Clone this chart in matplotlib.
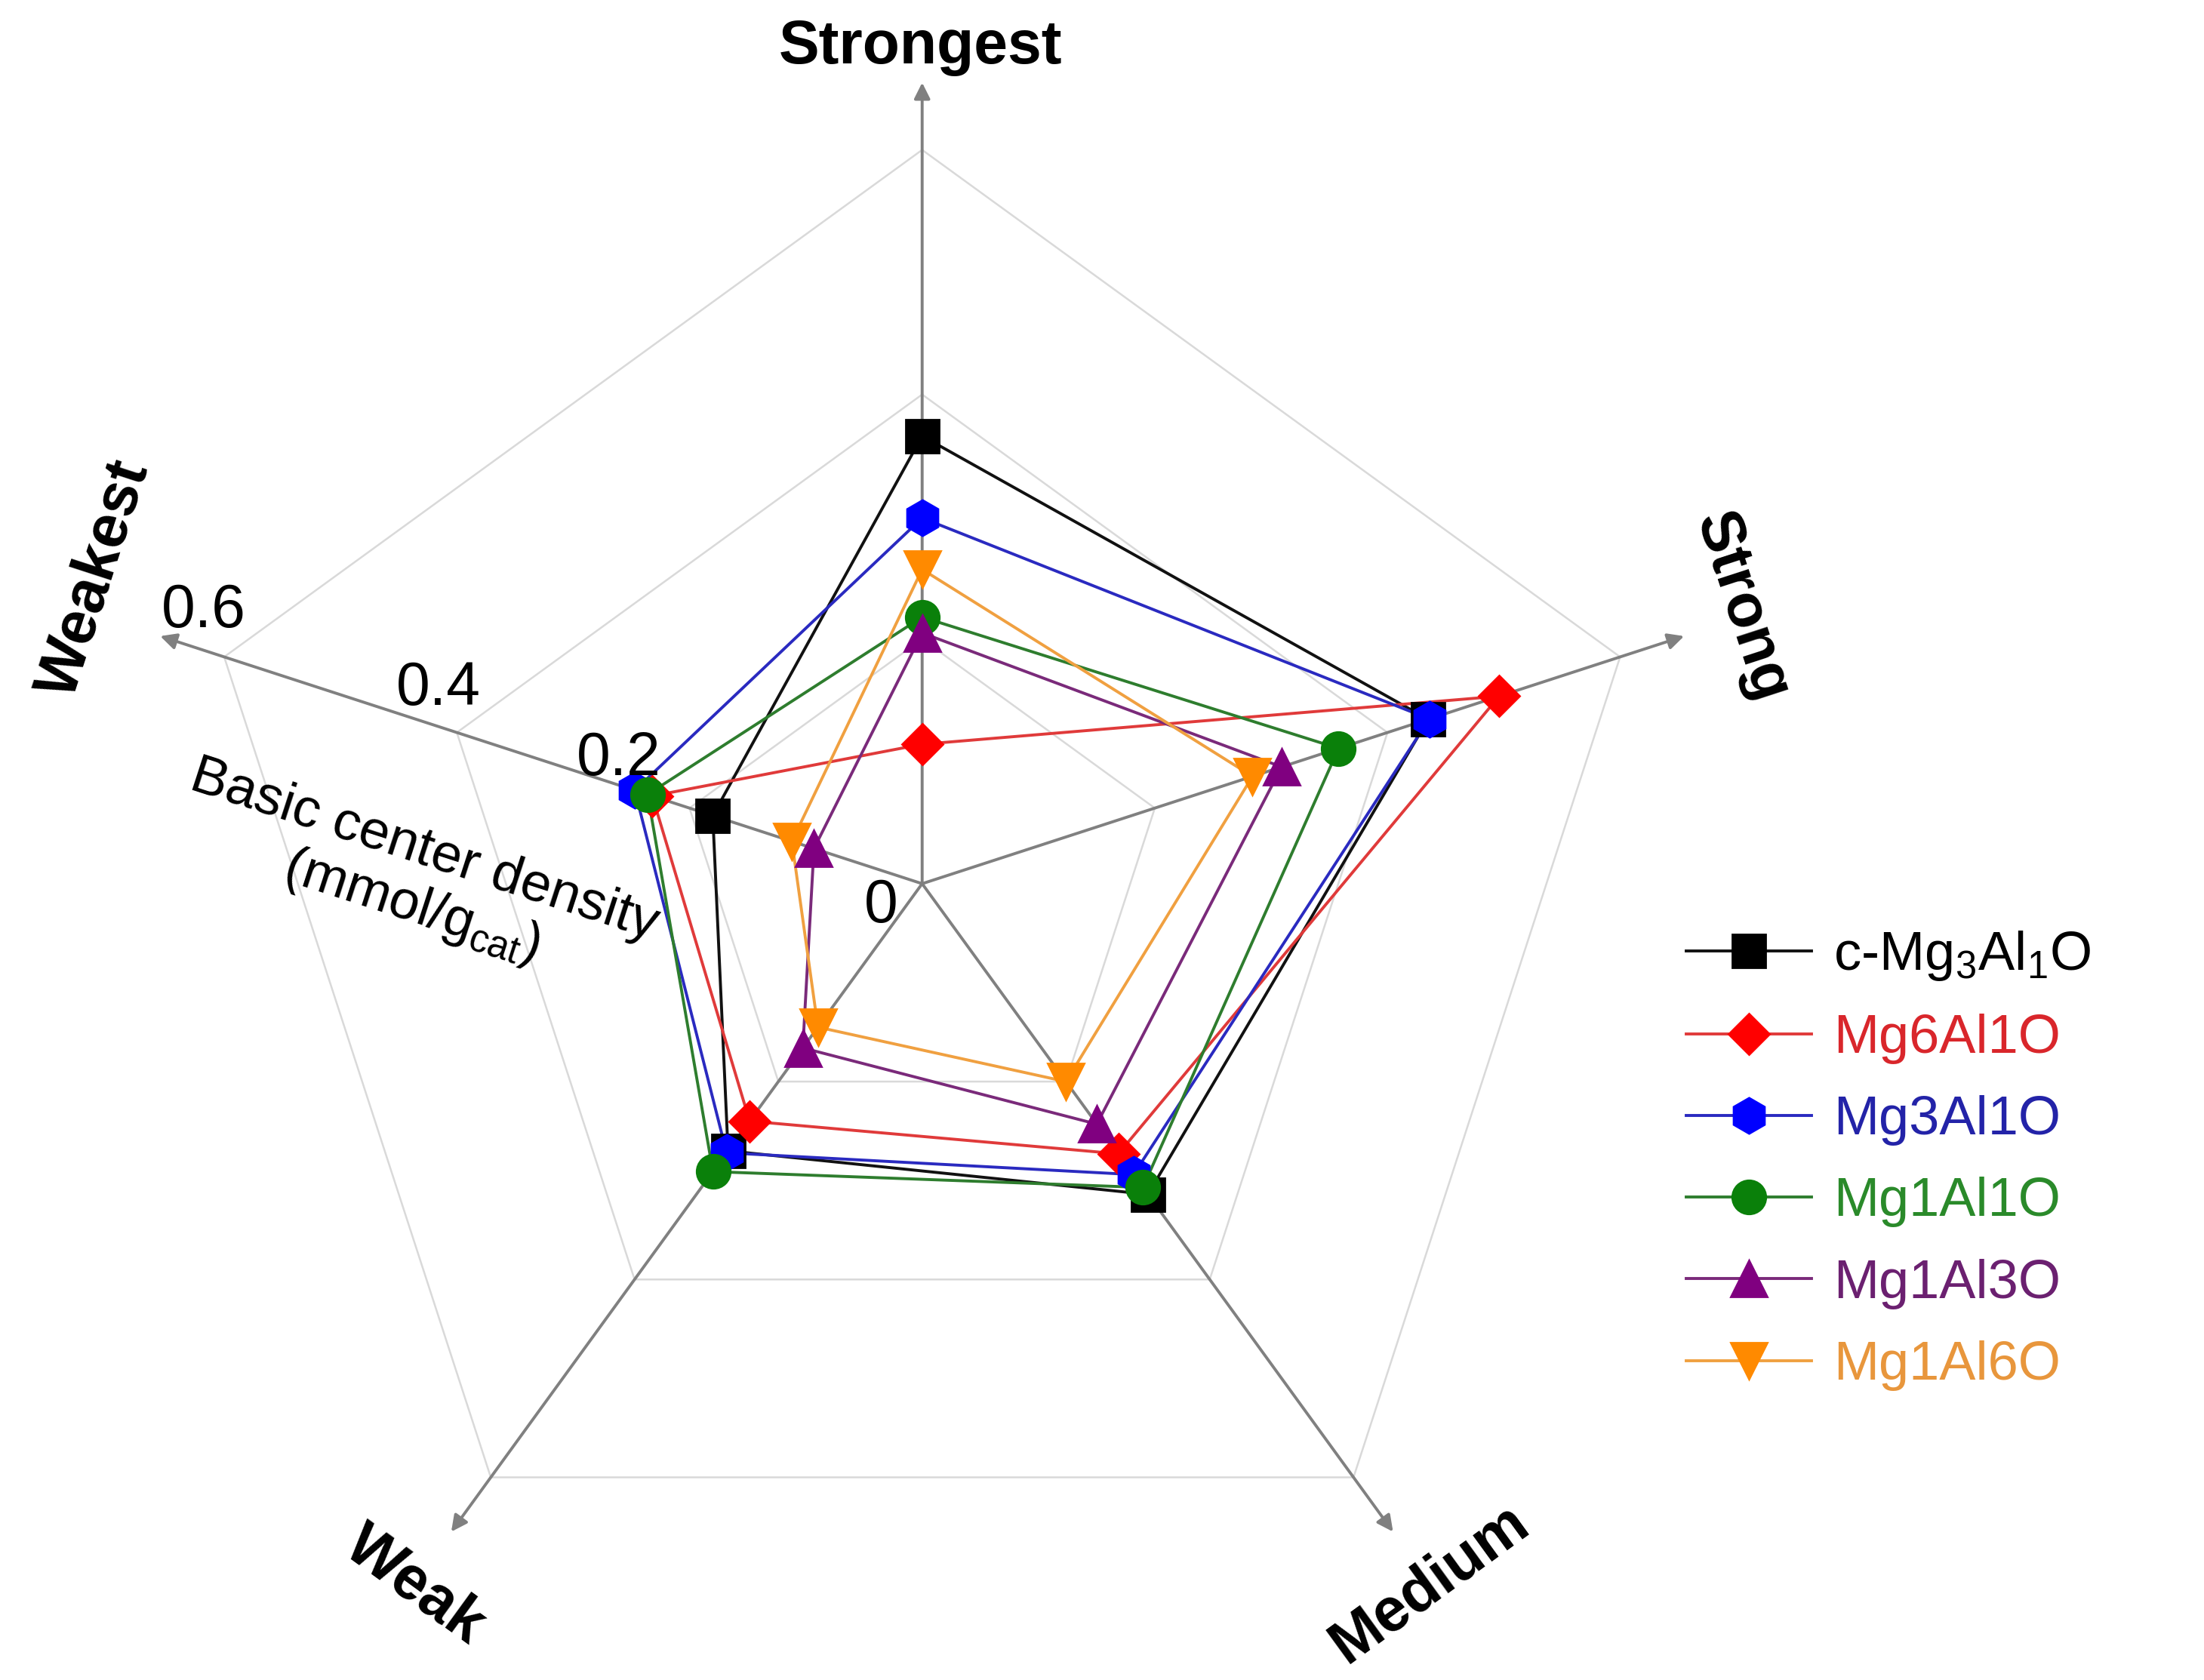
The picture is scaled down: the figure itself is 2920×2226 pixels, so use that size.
import numpy as np
import matplotlib
matplotlib.use("Agg")
import matplotlib.pyplot as plt

plt.rcParams['font.family'] = ['Liberation Sans', 'DejaVu Sans']
plt.rcParams['mathtext.fontset'] = 'custom'
plt.rcParams['mathtext.rm'] = 'Liberation Sans'
plt.rcParams['mathtext.it'] = 'Liberation Sans:italic'
plt.rcParams['mathtext.default'] = 'regular'

# ---------------- data ----------------
categories = ["Strongest", "Strong", "Medium", "Weak", "Weakest"]
c_mg3al1o = [0.366, 0.435, 0.314, 0.270, 0.180]
mg6al1o   = [0.114, 0.496, 0.273, 0.240, 0.232]
mg3al1o   = [0.299, 0.436, 0.294, 0.272, 0.247]
mg1al1o   = [0.218, 0.358, 0.307, 0.291, 0.236]
mg1al3o   = [0.205, 0.309, 0.243, 0.166, 0.093]
mg1al6o   = [0.257, 0.284, 0.200, 0.145, 0.112]
series_labels = ["c-Mg$_3$Al$_1$O", "Mg6Al1O", "Mg3Al1O", "Mg1Al1O", "Mg1Al3O", "Mg1Al6O"]
grid_levels = [0.2, 0.4, 0.6]
tick_labels = ["0", "0.2", "0.4", "0.6"]
axis_max = 0.655

series = [c_mg3al1o, mg6al1o, mg3al1o, mg1al1o, mg1al3o, mg1al6o]
colors = ['#000000', '#ff0000', '#0000ff', '#0a800a', '#800080', '#ff8a00']
line_colors = ['#111111', '#e03a3a', '#2a2ac0', '#2e7d2e', '#7a2a7a', '#f0a040']
text_colors = ['#000000', '#d9262b', '#2323a8', '#2a8a2a', '#6b2070', '#e8963c']
markers = ['s', 'D', 'h', 'o', '^', 'v']
msizes = [16, 14, 17, 16, 17, 17]

W, H = 2920, 2226
dpi = 200
fig = plt.figure(figsize=(W / dpi, H / dpi), dpi=dpi)

# polar axes placed so centre/radius match reference
ax = fig.add_axes([0.0549, -0.003, 0.727, 0.954], projection='polar')
ax.set_theta_zero_location('N')
ax.set_theta_direction(-1)
ax.set_ylim(0, axis_max)
ax.grid(False)
ax.set_xticks([])
ax.set_yticks([])
ax.spines['polar'].set_visible(False)
ax.patch.set_alpha(0)

n = len(categories)
theta = np.arange(n) * 2 * np.pi / n
theta_closed = np.concatenate([theta, theta[:1]])

# pentagon grid
for lv in grid_levels:
    ax.plot(theta_closed, [lv] * (n + 1), color='#d9d9d9', lw=0.9, zorder=1,
            clip_on=False)

# axis arrows
for t in theta:
    ax.annotate('', xy=(t, axis_max), xytext=(t, 0),
                arrowprops=dict(arrowstyle='-|>', color='#808080', lw=1.4,
                                mutation_scale=16, shrinkA=0, shrinkB=0),
                zorder=2, annotation_clip=False)

# data
handles = []
for vals, c, lc, m, ms, lab in zip(series, colors, line_colors, markers, msizes, series_labels):
    v = np.concatenate([vals, vals[:1]])
    ax.plot(theta_closed, v, color=lc, lw=1.4, zorder=3, clip_on=False)
    ax.plot(theta, vals, linestyle='none', marker=m, ms=ms, color=c,
            markeredgecolor=c, zorder=4, clip_on=False)
    h, = plt.plot([], [], color=lc, lw=1.4, marker=m, ms=ms,
                  markerfacecolor=c, markeredgecolor=c, label=lab)
    handles.append(h)

# axis labels
fs_lab = 29
fig.text(0.4177, 0.9715, "Strongest", ha='center', va='center', fontsize=fs_lab, fontweight='bold')
fig.text(0.7900, 0.6385, "Strong", ha='center', va='center', fontsize=fs_lab, fontweight='bold', rotation=-72)
fig.text(0.6490, 0.0570, "Medium", ha='center', va='center', fontsize=fs_lab, fontweight='bold', rotation=36)
fig.text(0.1881, 0.0561, "Weak", ha='center', va='center', fontsize=fs_lab, fontweight='bold', rotation=-36)
fig.text(0.0434, 0.6552, "Weakest", ha='center', va='center', fontsize=fs_lab, fontweight='bold', rotation=72)

# radial tick labels along Weakest axis
tick_pos = [(0.3999, 0.4603), (0.2806, 0.5480), (0.1990, 0.5900), (0.0925, 0.6360)]
for (x, y), tl in zip(tick_pos, tick_labels):
    fig.text(x, y, tl, ha='center', va='center', fontsize=29)

fig.text(0.1926, 0.4937, "Basic center density", ha='center', va='center',
         fontsize=26, rotation=-18, rotation_mode='anchor')
fig.text(0.1870, 0.4600, "(mmol/g$_{cat}$)", ha='center', va='center',
         fontsize=26, rotation=-18, rotation_mode='anchor')

leg = fig.legend(handles=handles, loc='upper left', bbox_to_anchor=(0.765, 0.447),
                 frameon=False, fontsize=26, handlelength=2.3, handletextpad=0.4,
                 labelspacing=0.57, borderpad=0, borderaxespad=0)
for t, tc in zip(leg.get_texts(), text_colors):
    t.set_color(tc)

fig.savefig("out.png", dpi=dpi)
